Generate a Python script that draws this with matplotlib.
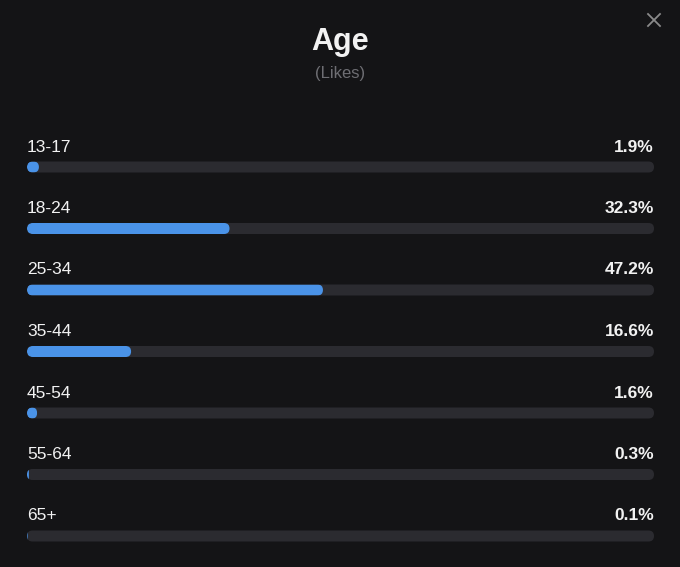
import matplotlib
matplotlib.use("Agg")
import matplotlib.pyplot as plt
from matplotlib.patches import FancyBboxPatch
from matplotlib.lines import Line2D

age_groups = ["13-17", "18-24", "25-34", "35-44", "45-54", "55-64", "65+"]
like_share = [1.9, 32.3, 47.2, 16.6, 1.6, 0.3, 0.1]
value_labels = ["1.9%", "32.3%", "47.2%", "16.6%", "1.6%", "0.3%", "0.1%"]

bg = "#141416"
track_color = "#2b2b30"
fill_color = "#4a93e8"
W, H = 680, 567

plt.rcParams['font.family'] = ['Liberation Sans', 'DejaVu Sans']

fig = plt.figure(figsize=(W / 100, H / 100), dpi=100, facecolor=bg)

# axes: x spans the track (px 27..654), rows centred at 167 + 61.5*i px
left_px, right_px = 27, 654
top_px, bot_px = 120, 567
row0, step = 167, 61.5
ax = fig.add_axes([left_px / W, 1 - bot_px / H, (right_px - left_px) / W, (bot_px - top_px) / H])
ax.set_facecolor(bg)
ax.set_xlim(0, 100)
ax.set_ylim((bot_px - row0) / step, (top_px - row0) / step)
ax.axis("off")

px_x = 100 / (right_px - left_px)   # data units per pixel, x
px_y = 1 / step                     # data units per pixel, y
bar_h = 11 * px_y
radius = 5.5 * px_x
aspect = px_y / px_x

for i, (grp, val, lab) in enumerate(zip(age_groups, like_share, value_labels)):
    track = FancyBboxPatch((0, i - bar_h / 2), 100, bar_h,
                           boxstyle=f"round,pad=0,rounding_size={radius}",
                           mutation_aspect=aspect, fc=track_color, ec="none")
    ax.add_patch(track)
    fill = FancyBboxPatch((0, i - bar_h / 2), val, bar_h,
                          boxstyle=f"round,pad=0,rounding_size={min(radius, val / 2)}",
                          mutation_aspect=aspect, fc=fill_color, ec="none")
    ax.add_patch(fill)
    fill.set_clip_path(track)
    ax.text(0, i - 15.5 * px_y, grp, color="#f2f2f2", fontsize=12.5,
            ha="left", va="baseline")
    ax.text(100, i - 15.5 * px_y, lab, color="#f2f2f2", fontsize=12.5,
            fontweight="bold", ha="right", va="baseline")

fig.text(0.5, 1 - 50 / H, "Age", color="#f2f2f2", fontsize=22,
         fontweight="bold", ha="center", va="baseline")
fig.text(0.5, 1 - 78 / H, "(Likes)", color="#6e6e73", fontsize=12,
         ha="center", va="baseline")

# close icon
cx, cy, s = 654, 20, 6
for dx in (-1, 1):
    fig.add_artist(Line2D([(cx - s) / W, (cx + s) / W],
                          [1 - (cy - dx * s) / H, 1 - (cy + dx * s) / H],
                          transform=fig.transFigure, color="#8a8a8a", lw=1.3))

fig.savefig("out.png", dpi=100, facecolor=bg)
